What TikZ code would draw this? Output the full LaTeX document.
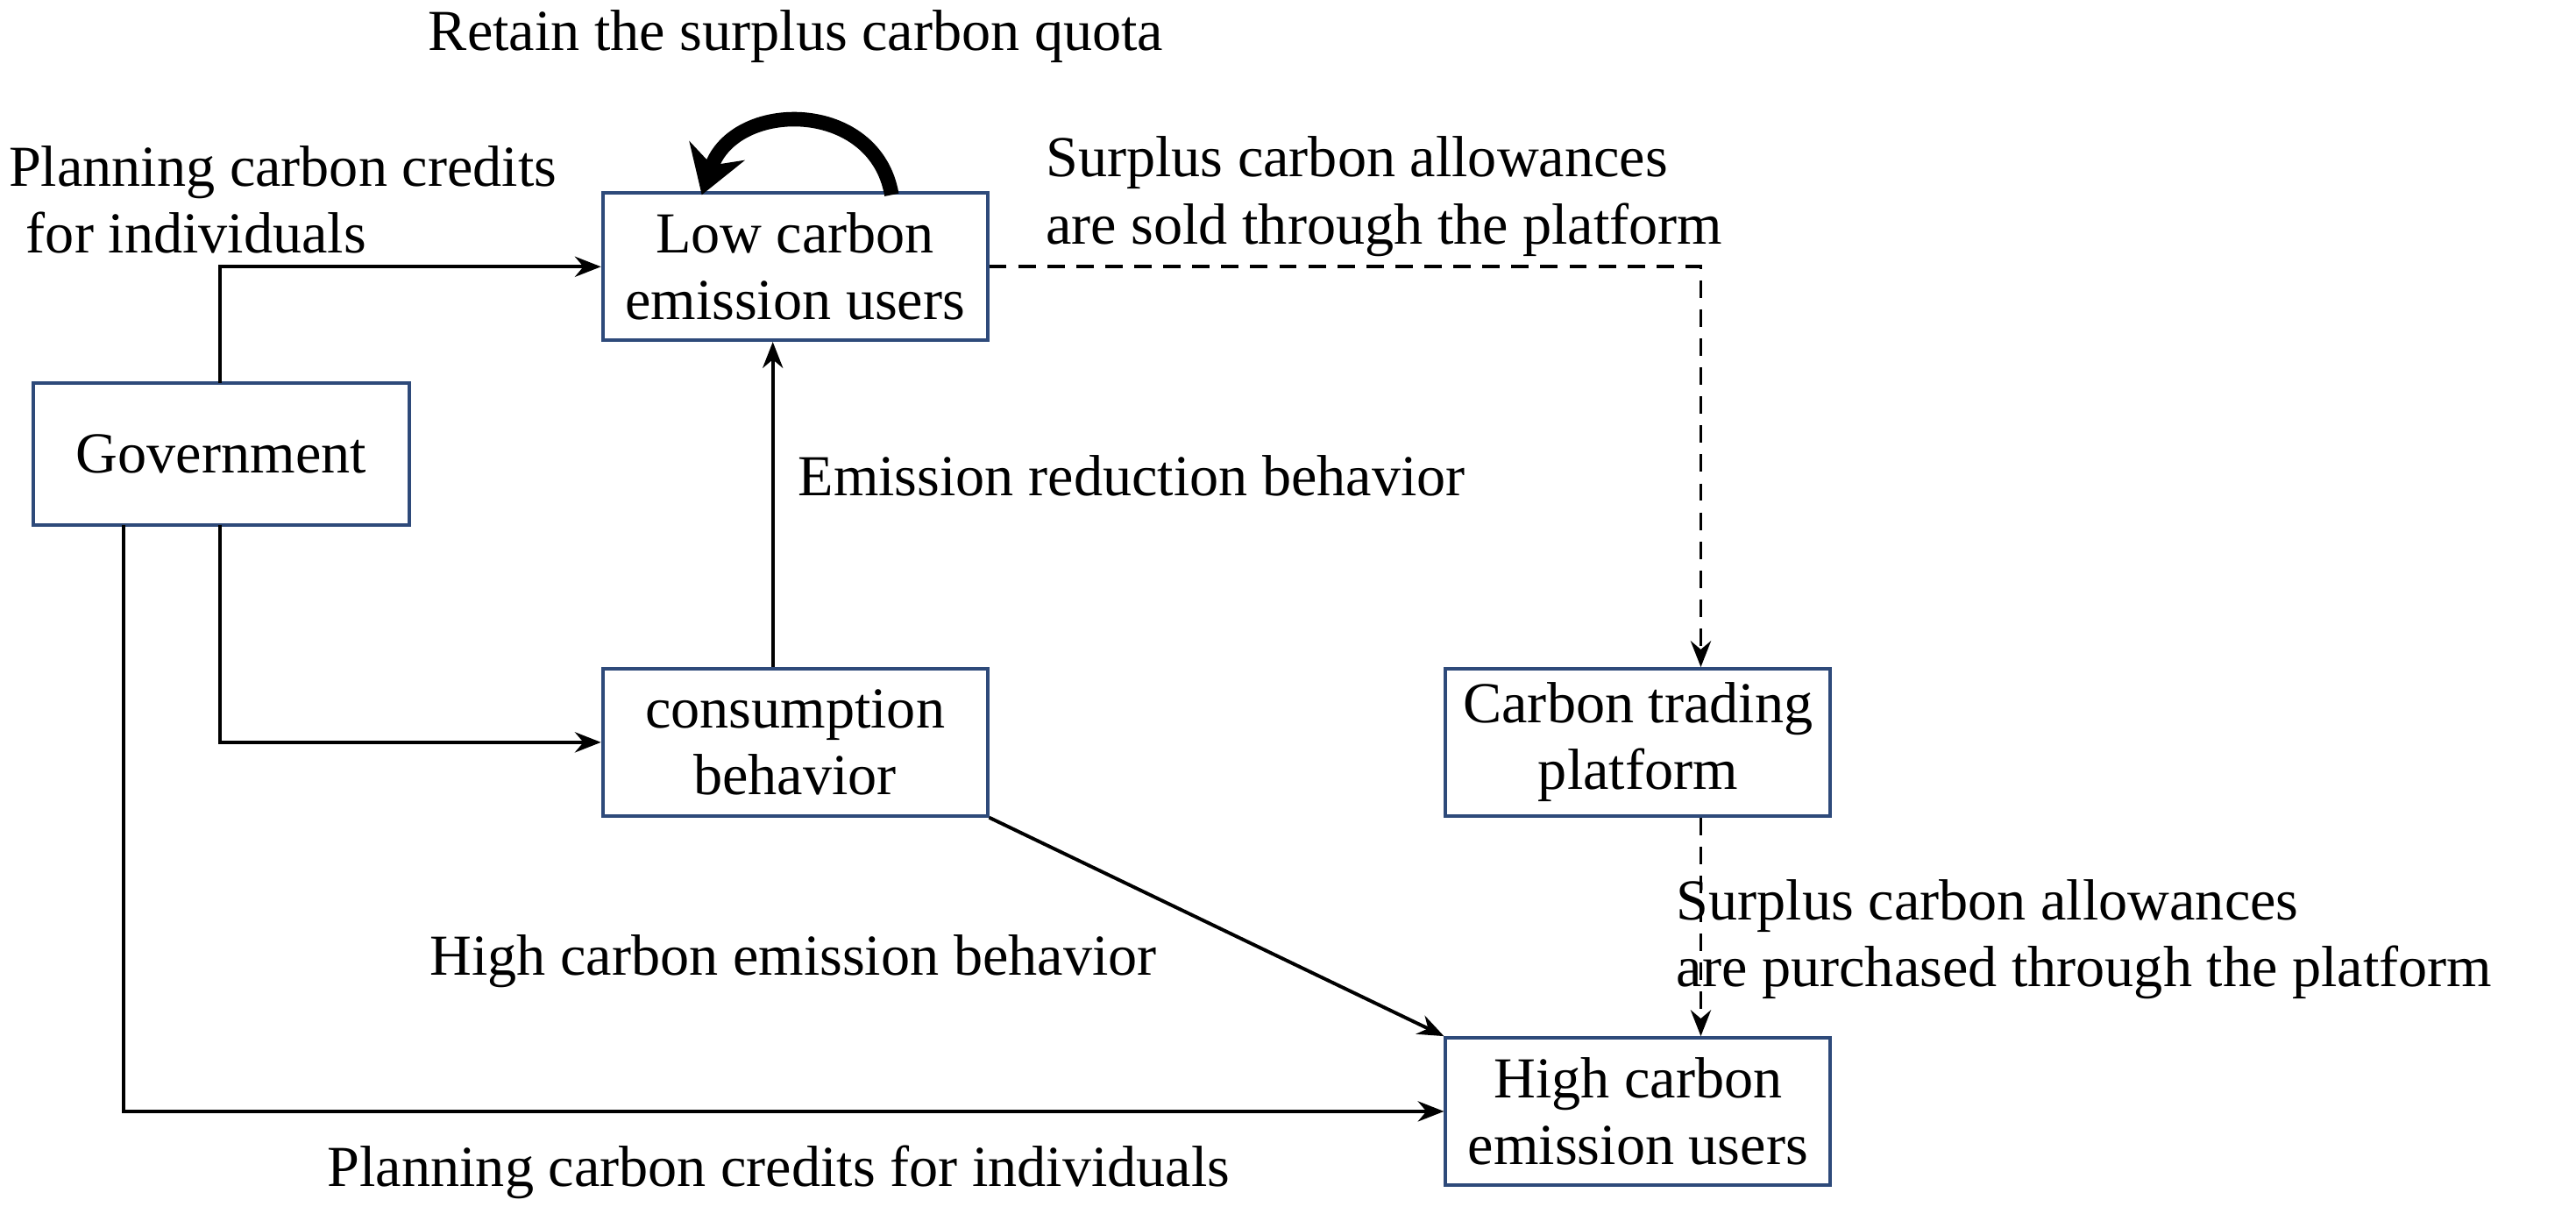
\documentclass[tikz,border=0pt]{standalone}
\usepackage{fontspec}
\setmainfont{Liberation Serif}
\usetikzlibrary{arrows.meta}
\definecolor{bx}{HTML}{2E4A7A}
\begin{document}
\begin{tikzpicture}[x=0.02cm,y=-0.02cm,
  box/.style={draw=bx,line width=1.2pt,minimum width=4.66cm,minimum height=1.78cm,align=center,font=\fontsize{20}{23}\selectfont,inner sep=0pt},
  lbl/.style={font=\fontsize{20}{23}\selectfont,align=left,inner sep=0pt},
  arr/.style={line width=1.2pt,-{Stealth[length=9pt,width=7pt]}},
  darr/.style={arr,dash pattern=on 6pt off 4pt}]
\useasboundingbox (0,0) rectangle (1560,735);
\node[box,minimum width=4.56cm,minimum height=1.72cm] (gov) at (134,275) {Government};
\node[box] (low) at (481.5,161.5) {Low carbon\\emission users};
\node[box] (con) at (481.5,449.5) {consumption\\behavior};
\node[box] (ctp) at (992,449.5) {Carbon trading\\platform};
\node[box] (high) at (992,673) {High carbon\\emission users};
\coordinate (g1) at (133,232);
\coordinate (g2) at (133,318);
\coordinate (g3) at (75,318);
\draw[arr] (g1) |- (low.west);
\draw[arr] (g2) |- (con.west);
\draw[arr] (g3) |- (high.west);
\draw[arr] (con.north -| 468,0) -- (low.south -| 468,0);
\draw[arr] (con.south east) -- (high.north west);
\draw[darr] (low.east) -| (ctp.north -| 1030,0);
\draw[darr] (ctp.south -| 1030,0) -- (high.north -| 1030,0);
\coordinate (la) at (540,118);
\coordinate (lb) at (425,118);
\draw[line width=5pt,-{Stealth[length=16pt,width=20pt]}] (la) .. controls (530,60) and (445,60) .. (lb);
\node[lbl,anchor=center] (t1) at (482,22) {Retain the surplus carbon quota};
\node[lbl,anchor=west] (t2) at (5,121) {Planning carbon credits\\\hspace*{0.3em}for individuals};
\node[lbl,anchor=west] (t3) at (633,119) {Surplus carbon allowances\\are sold through the platform};
\node[lbl,anchor=west] (t4) at (483,288) {Emission reduction behavior};
\node[lbl,anchor=west] (t5) at (260,582) {High carbon emission behavior};
\node[lbl,anchor=west] (t6) at (1015,569) {Surplus carbon allowances\\are purchased through the platform};
\node[lbl,anchor=west] (t7) at (198,710) {Planning carbon credits for individuals};
\end{tikzpicture}
\end{document}
